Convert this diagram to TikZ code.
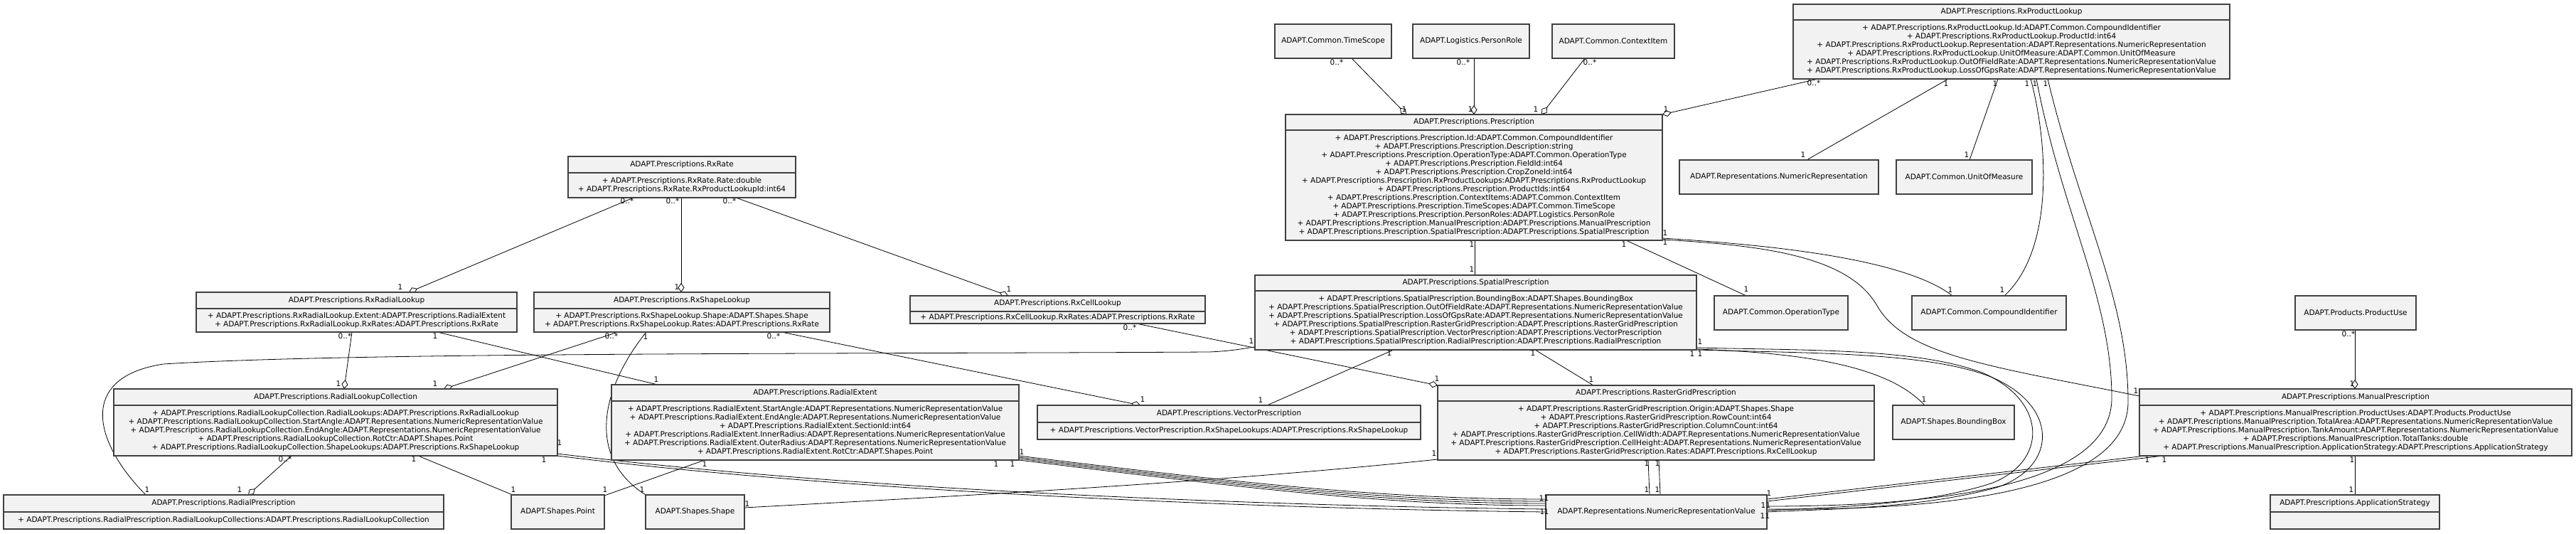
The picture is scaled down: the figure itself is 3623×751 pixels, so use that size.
\documentclass[tikz,border=0pt]{standalone}
\usepackage{fontspec}
\setmainfont{DejaVu Sans}
\usetikzlibrary{arrows.meta,calc}
\pgfdeclarelayer{bg}
\pgfsetlayers{bg,main}
\newcommand{\fs}{\fontsize{10.5}{12}\selectfont}
\tikzset{
 cls/.style={draw=black!75, line width=1.3pt, fill=black!5, rectangle, inner sep=0pt, outer sep=0pt},
 sepline/.style={draw=black!75, line width=1.3pt},
 txt/.style={inner sep=0pt, font=\fs, align=center},
 lbl/.style={inner sep=0pt, font=\fs},
 conn/.style={draw=black, line width=0.8pt},
 agg/.style={conn, -{Diamond[fill=white, length=13pt, width=9pt]}},
}
\newcommand{\simplebox}[6]{%
  \node[cls, anchor=north west, minimum width={(#4-#2)*1pt}, minimum height={(#5-#3)*1pt}] (#1) at (#2,#3) {};
  \node[txt] (#1-t) at ({(#2+#4)/2},{(#3+#5)/2}) {#6};}
\newcommand{\classbox}[8]{%
  \node[cls, anchor=north west, minimum width={(#4-#2)*1pt}, minimum height={(#5-#3)*1pt}] (#1) at (#2,#3) {};
  \draw[sepline] (#2,#6) -- (#4,#6);
  \node[txt] (#1-t) at ({(#2+#4)/2},{(#3+#6)/2}) {#7};
  \node[txt] (#1-a) at ({(#2+#4)/2},{(#6+#5)/2}) {#8};}
\newcounter{lbc}
\newcommand{\lb}[3]{\stepcounter{lbc}\node[lbl] (lb\arabic{lbc}) at (#1,#2) {#3};}
\begin{document}
\begin{tikzpicture}[x=1pt,y=-1pt]
\useasboundingbox (0,0) rectangle (3623,751);
% ---------- classes ----------
\simplebox{ts}{1793}{34}{1957}{82}{ADAPT.Common.TimeScope}
\simplebox{pr}{1987}{34}{2151}{82}{ADAPT.Logistics.PersonRole}
\simplebox{ci}{2183}{34}{2355}{82}{ADAPT.Common.ContextItem}
\classbox{rpl}{2522}{6}{3136}{111}{28}{ADAPT.Prescriptions.RxProductLookup}{%
+ ADAPT.Prescriptions.RxProductLookup.Id:ADAPT.Common.CompoundIdentifier\\
+ ADAPT.Prescriptions.RxProductLookup.ProductId:int64\\
+ ADAPT.Prescriptions.RxProductLookup.Representation:ADAPT.Representations.NumericRepresentation\\
+ ADAPT.Prescriptions.RxProductLookup.UnitOfMeasure:ADAPT.Common.UnitOfMeasure\\
+ ADAPT.Prescriptions.RxProductLookup.OutOfFieldRate:ADAPT.Representations.NumericRepresentationValue\\
+ ADAPT.Prescriptions.RxProductLookup.LossOfGpsRate:ADAPT.Representations.NumericRepresentationValue}
\classbox{presc}{1808}{161}{2338}{338}{183}{ADAPT.Prescriptions.Prescription}{%
+ ADAPT.Prescriptions.Prescription.Id:ADAPT.Common.CompoundIdentifier\\
+ ADAPT.Prescriptions.Prescription.Description:string\\
+ ADAPT.Prescriptions.Prescription.OperationType:ADAPT.Common.OperationType\\
+ ADAPT.Prescriptions.Prescription.FieldId:int64\\
+ ADAPT.Prescriptions.Prescription.CropZoneId:int64\\
+ ADAPT.Prescriptions.Prescription.RxProductLookups:ADAPT.Prescriptions.RxProductLookup\\
+ ADAPT.Prescriptions.Prescription.ProductIds:int64\\
+ ADAPT.Prescriptions.Prescription.ContextItems:ADAPT.Common.ContextItem\\
+ ADAPT.Prescriptions.Prescription.TimeScopes:ADAPT.Common.TimeScope\\
+ ADAPT.Prescriptions.Prescription.PersonRoles:ADAPT.Logistics.PersonRole\\
+ ADAPT.Prescriptions.Prescription.ManualPrescription:ADAPT.Prescriptions.ManualPrescription\\
+ ADAPT.Prescriptions.Prescription.SpatialPrescription:ADAPT.Prescriptions.SpatialPrescription}
\simplebox{nrep}{2362}{225}{2642}{273}{ADAPT.Representations.NumericRepresentation}
\simplebox{uom}{2667}{225}{2858}{273}{ADAPT.Common.UnitOfMeasure}
\classbox{rxrate}{799}{220}{1119}{278}{243}{ADAPT.Prescriptions.RxRate}{%
+ ADAPT.Prescriptions.RxRate.Rate:double\\
+ ADAPT.Prescriptions.RxRate.RxProductLookupId:int64}
\classbox{rrl}{276}{411}{727}{467}{434}{ADAPT.Prescriptions.RxRadialLookup}{%
+ ADAPT.Prescriptions.RxRadialLookup.Extent:ADAPT.Prescriptions.RadialExtent\\
+ ADAPT.Prescriptions.RxRadialLookup.RxRates:ADAPT.Prescriptions.RxRate}
\classbox{rsl}{751}{411}{1167}{467}{434}{ADAPT.Prescriptions.RxShapeLookup}{%
+ ADAPT.Prescriptions.RxShapeLookup.Shape:ADAPT.Shapes.Shape\\
+ ADAPT.Prescriptions.RxShapeLookup.Rates:ADAPT.Prescriptions.RxRate}
\classbox{rcl}{1280}{416}{1695}{455}{438}{ADAPT.Prescriptions.RxCellLookup}{%
+ ADAPT.Prescriptions.RxCellLookup.RxRates:ADAPT.Prescriptions.RxRate}
\classbox{sp}{1765}{387}{2386}{492}{409}{ADAPT.Prescriptions.SpatialPrescription}{%
+ ADAPT.Prescriptions.SpatialPrescription.BoundingBox:ADAPT.Shapes.BoundingBox\\
+ ADAPT.Prescriptions.SpatialPrescription.OutOfFieldRate:ADAPT.Representations.NumericRepresentationValue\\
+ ADAPT.Prescriptions.SpatialPrescription.LossOfGpsRate:ADAPT.Representations.NumericRepresentationValue\\
+ ADAPT.Prescriptions.SpatialPrescription.RasterGridPrescription:ADAPT.Prescriptions.RasterGridPrescription\\
+ ADAPT.Prescriptions.SpatialPrescription.VectorPrescription:ADAPT.Prescriptions.VectorPrescription\\
+ ADAPT.Prescriptions.SpatialPrescription.RadialPrescription:ADAPT.Prescriptions.RadialPrescription}
\simplebox{optype}{2411}{416}{2599}{464}{ADAPT.Common.OperationType}
\simplebox{cid}{2689}{416}{2906}{464}{ADAPT.Common.CompoundIdentifier}
\simplebox{puse}{3228}{416}{3398}{464}{ADAPT.Products.ProductUse}
\simplebox{bbox}{2662}{570}{2833}{618}{ADAPT.Shapes.BoundingBox}
\classbox{manual}{3009}{547}{3617}{641}{570}{ADAPT.Prescriptions.ManualPrescription}{%
+ ADAPT.Prescriptions.ManualPrescription.ProductUses:ADAPT.Products.ProductUse\\
+ ADAPT.Prescriptions.ManualPrescription.TotalArea:ADAPT.Representations.NumericRepresentationValue\\
+ ADAPT.Prescriptions.ManualPrescription.TankAmount:ADAPT.Representations.NumericRepresentationValue\\
+ ADAPT.Prescriptions.ManualPrescription.TotalTanks:double\\
+ ADAPT.Prescriptions.ManualPrescription.ApplicationStrategy:ADAPT.Prescriptions.ApplicationStrategy}
\classbox{appst}{3193}{696}{3431}{744}{720}{ADAPT.Prescriptions.ApplicationStrategy}{}
\classbox{rlc}{160}{547}{784}{641}{570}{ADAPT.Prescriptions.RadialLookupCollection}{%
+ ADAPT.Prescriptions.RadialLookupCollection.RadialLookups:ADAPT.Prescriptions.RxRadialLookup\\
+ ADAPT.Prescriptions.RadialLookupCollection.StartAngle:ADAPT.Representations.NumericRepresentationValue\\
+ ADAPT.Prescriptions.RadialLookupCollection.EndAngle:ADAPT.Representations.NumericRepresentationValue\\
+ ADAPT.Prescriptions.RadialLookupCollection.RotCtr:ADAPT.Shapes.Point\\
+ ADAPT.Prescriptions.RadialLookupCollection.ShapeLookups:ADAPT.Prescriptions.RxShapeLookup}
\classbox{radp}{5}{696}{624}{744}{720}{ADAPT.Prescriptions.RadialPrescription}{%
+ ADAPT.Prescriptions.RadialPrescription.RadialLookupCollections:ADAPT.Prescriptions.RadialLookupCollection}
\simplebox{point}{719}{696}{850}{744}{ADAPT.Shapes.Point}
\simplebox{shape}{908}{696}{1047}{744}{ADAPT.Shapes.Shape}
\classbox{rext}{860}{541}{1433}{647}{564}{ADAPT.Prescriptions.RadialExtent}{%
+ ADAPT.Prescriptions.RadialExtent.StartAngle:ADAPT.Representations.NumericRepresentationValue\\
+ ADAPT.Prescriptions.RadialExtent.EndAngle:ADAPT.Representations.NumericRepresentationValue\\
+ ADAPT.Prescriptions.RadialExtent.SectionId:int64\\
+ ADAPT.Prescriptions.RadialExtent.InnerRadius:ADAPT.Representations.NumericRepresentationValue\\
+ ADAPT.Prescriptions.RadialExtent.OuterRadius:ADAPT.Representations.NumericRepresentationValue\\
+ ADAPT.Prescriptions.RadialExtent.RotCtr:ADAPT.Shapes.Point}
\classbox{vecp}{1459}{570}{1998}{618}{594}{ADAPT.Prescriptions.VectorPrescription}{%
+ ADAPT.Prescriptions.VectorPrescription.RxShapeLookups:ADAPT.Prescriptions.RxShapeLookup}
\classbox{rgp}{2022}{542}{2636}{647}{564}{ADAPT.Prescriptions.RasterGridPrescription}{%
+ ADAPT.Prescriptions.RasterGridPrescription.Origin:ADAPT.Shapes.Shape\\
+ ADAPT.Prescriptions.RasterGridPrescription.RowCount:int64\\
+ ADAPT.Prescriptions.RasterGridPrescription.ColumnCount:int64\\
+ ADAPT.Prescriptions.RasterGridPrescription.CellWidth:ADAPT.Representations.NumericRepresentationValue\\
+ ADAPT.Prescriptions.RasterGridPrescription.CellHeight:ADAPT.Representations.NumericRepresentationValue\\
+ ADAPT.Prescriptions.RasterGridPrescription.Rates:ADAPT.Prescriptions.RxCellLookup}
\simplebox{nrv}{2174}{696}{2485}{744}{ADAPT.Representations.NumericRepresentationValue}
% ---------- connectors ----------
\begin{pgfonlayer}{bg}
\fill[white] (0,0) rectangle (3623,751);
\draw[agg] ($(ts.south west)+(108,0)$) -- ($(presc.north west)+(170,0)$);
\draw[agg] ($(pr.south west)+(86,0)$) -- ($(presc.north west)+(265,0)$);
\draw[agg] ($(ci.south west)+(46,0)$) -- ($(presc.north west)+(360,0)$);
\draw[agg] ($(rpl.south west)+(35,0)$) -- (presc.north east);
\draw[conn] ($(rpl.south west)+(218,0)$) -- ($(nrep.north west)+(179,0)$);
\draw[conn] ($(rpl.south west)+(288,0)$) -- ($(uom.north west)+(103,0)$);
\draw[conn] ($(rpl.south west)+(334,0)$) .. controls (2880,200) and (2890,350) .. ($(cid.north west)+(130,0)$);
\draw[conn] ($(rpl.south west)+(342,0)$) .. controls (2900,300) and (2970,420) .. (2970,560) .. controls (2970,690) and (2700,712) .. ($(nrv.north east)+(0,16)$);
\draw[conn] ($(rpl.south west)+(358,0)$) .. controls (2925,300) and (2993,420) .. (2993,565) .. controls (2993,700) and (2700,718) .. ($(nrv.north east)+(0,20)$);
\draw[conn] ($(presc.south west)+(266,0)$) -- ($(sp.north west)+(309,0)$);
\draw[conn] ($(presc.south west)+(479,0)$) -- ($(optype.north west)+(45,0)$);
\draw[conn] ($(presc.south east)+(0,-3)$) .. controls (2500,345) and (2680,365) .. ($(cid.north west)+(57,0)$);
\draw[conn] ($(presc.south east)+(0,-1)$) .. controls (2480,345) and (2600,360) .. (2640,430) .. controls (2680,500) and (2800,515) .. ($(manual.north west)+(0,10)$);
\draw[agg] ($(rxrate.south west)+(92,0)$) -- ($(rrl.north west)+(299,0)$);
\draw[agg] ($(rxrate.south west)+(159,0)$) -- ($(rsl.north west)+(207,0)$);
\draw[agg] ($(rxrate.south west)+(236,0)$) -- ($(rcl.north west)+(138,0)$);
\draw[agg] ($(rrl.south west)+(219,0)$) -- ($(rlc.north west)+(324,0)$);
\draw[conn] ($(rrl.south west)+(339,0)$) -- ($(rext.north west)+(65,0)$);
\draw[agg] ($(rsl.south west)+(118,0)$) -- ($(rlc.north west)+(464,0)$);
\draw[conn] ($(rsl.south west)+(158,0)$) .. controls (850,540) and (820,640) .. (shape.north west);
\draw[agg] ($(rsl.south west)+(348,0)$) -- ($(vecp.north west)+(145,0)$);
\draw[agg] ($(rcl.south west)+(318,0)$) -- (rgp.north west);
\draw[agg] ($(rlc.south west)+(250,0)$) -- ($(radp.north west)+(344,0)$);
\draw[conn] ($(rlc.south west)+(428,0)$) -- ($(point.north west)+(2,0)$);
\draw[conn] ($(rlc.south east)+(0,-3)$) .. controls (1200,690) and (1800,712) .. ($(nrv.north west)+(0,20)$);
\draw[conn] (rlc.south east) .. controls (1200,693) and (1800,716) .. ($(nrv.north west)+(0,24)$);
\draw[conn] ($(rext.south east)+(0,-6)$) .. controls (1750,680) and (1950,702) .. ($(nrv.north west)+(0,6)$);
\draw[conn] ($(rext.south east)+(0,-4)$) .. controls (1750,682) and (1950,705) .. ($(nrv.north west)+(0,9)$);
\draw[conn] ($(rext.south east)+(0,-2)$) .. controls (1750,684) and (1950,708) .. ($(nrv.north west)+(0,12)$);
\draw[conn] (rext.south east) .. controls (1750,686) and (1950,711) .. ($(nrv.north west)+(0,15)$);
\draw[conn] ($(rext.south west)+(131,0)$) -- ($(point.north east)+(0,1)$);
\draw[conn] ($(rgp.south west)+(0,-1)$) .. controls (1700,680) and (1300,700) .. ($(shape.north east)+(0,18)$);
\draw[conn] ($(rgp.south west)+(296,0)$) -- ($(nrv.north west)+(146,0)$);
\draw[conn] ($(rgp.south west)+(311,0)$) -- ($(nrv.north west)+(161,0)$);
\draw[conn] ($(sp.south west)+(195,0)$) -- ($(vecp.north east)+(-216,0)$);
\draw[conn] ($(sp.south west)+(394,0)$) -- ($(rgp.north west)+(219,0)$);
\draw[conn] ($(sp.south east)+(0,-1)$) .. controls (2560,497) and (2660,520) .. ($(bbox.north west)+(45,0)$);
\draw[conn] ($(sp.south east)+(0,-3)$) .. controls (2550,493) and (2700,490) .. (2790,525) .. controls (2880,565) and (2880,650) .. (2800,680) .. controls (2700,712) and (2560,714) .. ($(nrv.north east)+(0,22)$);
\draw[conn] (sp.south east) .. controls (2550,497) and (2710,495) .. (2800,530) .. controls (2895,570) and (2895,655) .. (2810,685) .. controls (2700,716) and (2560,716) .. ($(nrv.north east)+(0,24)$);
\draw[conn] ($(radp.north west)+(200,0)$) .. controls (130,620) and (110,530) .. (230,512) .. controls (500,495) and (1200,498) .. (1700,495) .. controls (1730,494) and (1750,490) .. ($(sp.south west)+(-1,-4)$);
\draw[agg] ($(puse.south west)+(84,0)$) -- ($(manual.north west)+(303,0)$);
\draw[conn] ($(manual.south west)+(9,0)$) -- ($(nrv.north east)+(0,6)$);
\draw[conn] ($(manual.south west)+(34,0)$) -- ($(nrv.north east)+(0,9)$);
\draw[conn] ($(manual.south west)+(303,0)$) -- ($(appst.north west)+(119,0)$);
\end{pgfonlayer}
% ---------- multiplicities ----------
\lb{1880}{88}{0..*} \lb{1975}{154}{1}
\lb{2058}{88}{0..*} \lb{2068}{154}{1}
\lb{2236}{88}{0..*} \lb{2160}{154}{1}
\lb{2551}{117}{0..*} \lb{2343}{154}{1}
\lb{2737}{118}{1} \lb{2536}{218}{1}
\lb{2806}{118}{1} \lb{2766}{218}{1}
\lb{2851}{118}{1} \lb{2862}{118}{1} \lb{2877}{118}{1}
\lb{2743}{408}{1} \lb{2816}{408}{1}
\lb{2070}{344}{1} \lb{2070}{379}{1}
\lb{2284}{344}{1} \lb{2456}{407}{1}
\lb{2342}{328}{1} \lb{2342}{341}{1}
\lb{3004}{550}{1}
\lb{882}{283}{0..*} \lb{946}{283}{0..*} \lb{1026}{283}{0..*}
\lb{563}{404}{1} \lb{952}{404}{1} \lb{1419}{407}{1}
\lb{485}{473}{0..*} \lb{612}{473}{1}
\lb{860}{473}{0..*} \lb{908}{474}{1} \lb{1088}{473}{0..*}
\lb{1589}{461}{0..*}
\lb{476}{540}{1} \lb{612}{540}{1}
\lb{923}{534}{1}
\lb{401}{646}{0..*} \lb{582}{646}{1} \lb{765}{647}{1} \lb{787}{623}{1}
\lb{207}{689}{1} \lb{337}{689}{1}
\lb{722}{689}{1} \lb{851}{689}{1}
\lb{903}{689}{1} \lb{1051}{709}{1}
\lb{991}{653}{1} \lb{1401}{653}{1} \lb{1424}{653}{1} \lb{1437}{636}{1}
\lb{1607}{562}{1} \lb{1773}{563}{1}
\lb{1954}{497}{1} \lb{2156}{497}{1} \lb{2391}{481}{1} \lb{2380}{498}{1} \lb{2391}{498}{1}
\lb{1760}{480}{1}
\lb{2021}{533}{1} \lb{2238}{534}{1}
\lb{2017}{638}{1}
\lb{2316}{652}{1} \lb{2331}{652}{1}
\lb{2316}{689}{1} \lb{2331}{689}{1}
\lb{2168}{701}{1} \lb{2175}{701}{1} \lb{2169}{720}{1} \lb{2175}{720}{1}
\lb{2488}{694}{1} \lb{2480}{711}{1} \lb{2487}{711}{1} \lb{2479}{726}{1} \lb{2486}{726}{1}
\lb{2706}{562}{1}
\lb{3303}{470}{0..*} \lb{3308}{540}{1}
\lb{3020}{647}{1} \lb{3044}{647}{1} \lb{3308}{647}{1}
\lb{3307}{689}{1}
\end{tikzpicture}
\end{document}
